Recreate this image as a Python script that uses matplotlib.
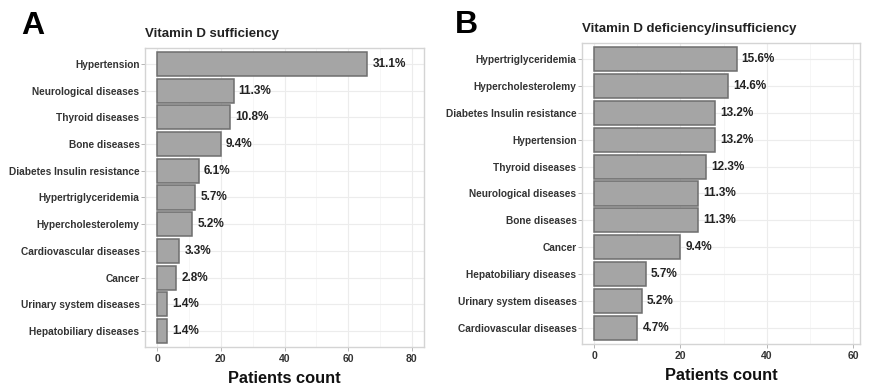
import matplotlib
matplotlib.use("Agg")
import matplotlib.pyplot as plt
from matplotlib.ticker import MultipleLocator

plt.rcParams['font.family'] = ['Liberation Sans', 'DejaVu Sans']

cats_a = ["Hypertension", "Neurological diseases", "Thyroid diseases", "Bone diseases",
          "Diabetes Insulin resistance", "Hypertriglyceridemia", "Hypercholesterolemy",
          "Cardiovascular diseases", "Cancer", "Urinary system diseases", "Hepatobiliary diseases"]
counts_a = [66, 24, 23, 20, 13, 12, 11, 7, 6, 3, 3]
pct_a = ["31.1%", "11.3%", "10.8%", "9.4%", "6.1%", "5.7%", "5.2%", "3.3%", "2.8%", "1.4%", "1.4%"]

cats_b = ["Hypertriglyceridemia", "Hypercholesterolemy", "Diabetes Insulin resistance",
          "Hypertension", "Thyroid diseases", "Neurological diseases", "Bone diseases",
          "Cancer", "Hepatobiliary diseases", "Urinary system diseases", "Cardiovascular diseases"]
counts_b = [33, 31, 28, 28, 26, 24, 24, 20, 12, 11, 10]
pct_b = ["15.6%", "14.6%", "13.2%", "13.2%", "12.3%", "11.3%", "11.3%", "9.4%", "5.7%", "5.2%", "4.7%"]

fig = plt.figure(figsize=(8.69, 3.92), dpi=100)
ax1 = fig.add_axes([0.1669, 0.1148, 0.321, 0.7628])
ax2 = fig.add_axes([0.6697, 0.1224, 0.320, 0.768])


def draw(ax, cats, counts, pcts, xlim, xmax_tick, title, letter, letter_xy, off):
    y = list(range(len(cats)))
    ax.barh(y, counts, height=0.9, color="#a5a5a5", edgecolor="#6e6e6e", linewidth=1.1, zorder=3)
    for yi, c, p in zip(y, counts, pcts):
        ax.text(c + off, yi, p, va="center", ha="left", fontsize=8.5, fontweight="bold",
                color="#222222", zorder=4)
    ax.set_yticks(y)
    ax.set_yticklabels(cats, fontsize=7.3, fontweight="bold", color="#333333")
    ax.set_ylim(len(cats) - 0.4, -0.6)
    ax.set_xlim(*xlim)
    ax.xaxis.set_major_locator(MultipleLocator(20))
    ax.xaxis.set_minor_locator(MultipleLocator(10))
    ax.set_xticks([t for t in range(0, xmax_tick + 1, 20)])
    ax.tick_params(axis="x", labelsize=7.5, colors="#333333", length=3, width=0.6,
                   color="#aaaaaa", pad=2)
    for lbl in ax.get_xticklabels():
        lbl.set_fontweight("bold")
    ax.tick_params(axis="x", which="minor", length=0)
    ax.tick_params(axis="y", length=3, width=0.6, color="#aaaaaa", pad=1)
    ax.grid(True, which="major", color="#ececec", linewidth=0.8, zorder=0)
    ax.grid(True, which="minor", axis="x", color="#f5f5f5", linewidth=0.6, zorder=0)
    ax.set_axisbelow(True)
    for s in ax.spines.values():
        s.set_color("#d4d4d4")
        s.set_linewidth(1.0)
    ax.set_xlabel("Patients count", fontsize=11.8, fontweight="bold", color="#111111", labelpad=5)
    ax.set_title(title, loc="left", fontsize=9.5, fontweight="bold", color="#222222", pad=8)
    fig.text(letter_xy[0], letter_xy[1], letter, fontsize=23, fontweight="bold",
             ha="left", va="center", color="black")


draw(ax1, cats_a, counts_a, pct_a, (-3.8, 83.8), 80, "Vitamin D sufficiency", "A",
     (21 / 869, 1 - 26 / 392), 1.6)
draw(ax2, cats_b, counts_b, pct_b, (-2.8, 61.6), 60, "Vitamin D deficiency/insufficiency", "B",
     (455 / 869, 1 - 25 / 392), 1.2)

fig.savefig("out.png", dpi=100)
